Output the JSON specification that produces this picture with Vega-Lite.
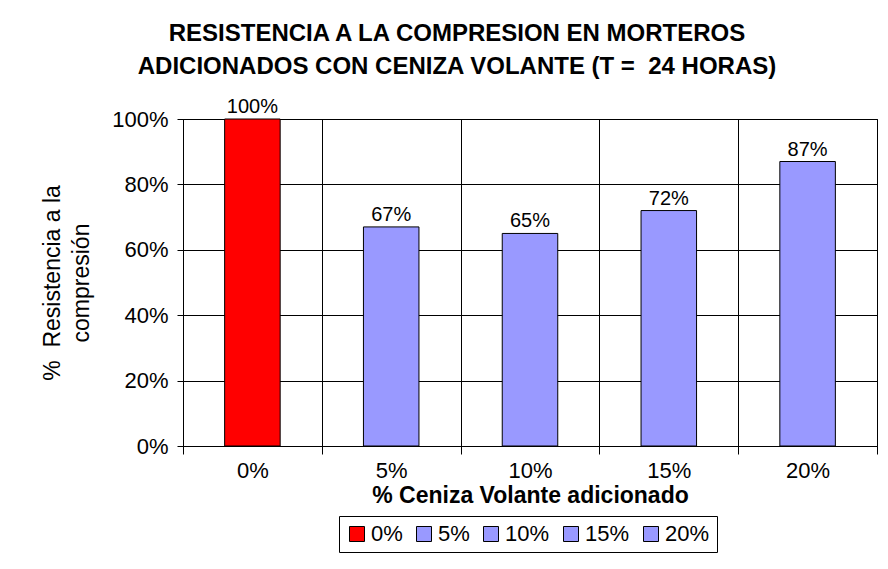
{
  "$schema": "https://vega.github.io/schema/vega-lite/v6.json",
  "width": 694,
  "height": 327,
  "autosize": {"type": "none"},
  "padding": {"left": 183, "top": 119, "right": 11, "bottom": 123},
  "background": "white",
  "title": {
    "text": ["RESISTENCIA A LA COMPRESION EN MORTEROS", "ADICIONADOS CON CENIZA VOLANTE (T =\u00a0 24 HORAS)"],
    "font": "Liberation Sans",
    "fontSize": 24,
    "fontWeight": "bold",
    "color": "black",
    "lineHeight": 33,
    "anchor": "middle",
    "frame": "group",
    "dx": -73,
    "offset": 18
  },
  "data": {
    "values": [
      {"ceniza": "0%", "res": 1.00},
      {"ceniza": "5%", "res": 0.67},
      {"ceniza": "10%", "res": 0.65},
      {"ceniza": "15%", "res": 0.72},
      {"ceniza": "20%", "res": 0.87}
    ]
  },
  "encoding": {
    "x": {
      "field": "ceniza",
      "type": "nominal",
      "sort": ["0%", "5%", "10%", "15%", "20%"],
      "scale": {"paddingInner": 0, "paddingOuter": 0},
      "axis": {
        "title": "% Ceniza Volante adicionado",
        "titleFontSize": 23,
        "titleFontWeight": "bold",
        "titlePadding": 3,
        "labelAngle": 0,
        "labelFontSize": 22,
        "labelPadding": 6,
        "tickBand": "extent",
        "tickSize": 8,
        "grid": true
      }
    },
    "y": {
      "field": "res",
      "type": "quantitative",
      "scale": {"domain": [0, 1]},
      "axis": {
        "values": [0, 0.2, 0.4, 0.6, 0.8, 1],
        "format": ".0%",
        "title": ["%\u00a0 Resistencia a la", "compresión"],
        "titleFontSize": 23,
        "titleFontWeight": "normal",
        "titleLineHeight": 29,
        "titlePadding": 18,
        "labelFontSize": 22,
        "labelPadding": 9,
        "tickSize": 6,
        "grid": true
      }
    }
  },
  "layer": [
    {
      "mark": {"type": "bar", "stroke": "black", "strokeWidth": 1, "width": {"band": 0.4}},
      "encoding": {
        "color": {
          "field": "ceniza",
          "type": "nominal",
          "scale": {
            "domain": ["0%", "5%", "10%", "15%", "20%"],
            "range": ["#FF0000", "#9999FF", "#9999FF", "#9999FF", "#9999FF"]
          },
          "legend": {
            "title": null,
            "orient": "none",
            "direction": "horizontal",
            "legendX": 156,
            "legendY": 397,
            "symbolType": "square",
            "symbolSize": 225,
            "symbolStrokeColor": "black",
            "symbolStrokeWidth": 1,
            "symbolOpacity": 1,
            "labelFontSize": 22,
            "labelOffset": 3,
            "columnPadding": 10,
            "strokeColor": "black",
            "padding": 7
          }
        }
      }
    },
    {
      "mark": {"type": "text", "baseline": "bottom", "dy": -2, "fontSize": 20, "color": "black"},
      "encoding": {
        "text": {"field": "res", "type": "quantitative", "format": ".0%"}
      }
    }
  ],
  "config": {
    "font": "Liberation Sans",
    "view": {"stroke": "black", "strokeWidth": 1},
    "axis": {
      "gridColor": "black",
      "gridOpacity": 1,
      "gridWidth": 1,
      "domainColor": "black",
      "tickColor": "black",
      "labelColor": "black",
      "titleColor": "black",
      "labelFont": "Liberation Sans",
      "titleFont": "Liberation Sans"
    },
    "legend": {"labelColor": "black", "labelFont": "Liberation Sans"}
  }
}
